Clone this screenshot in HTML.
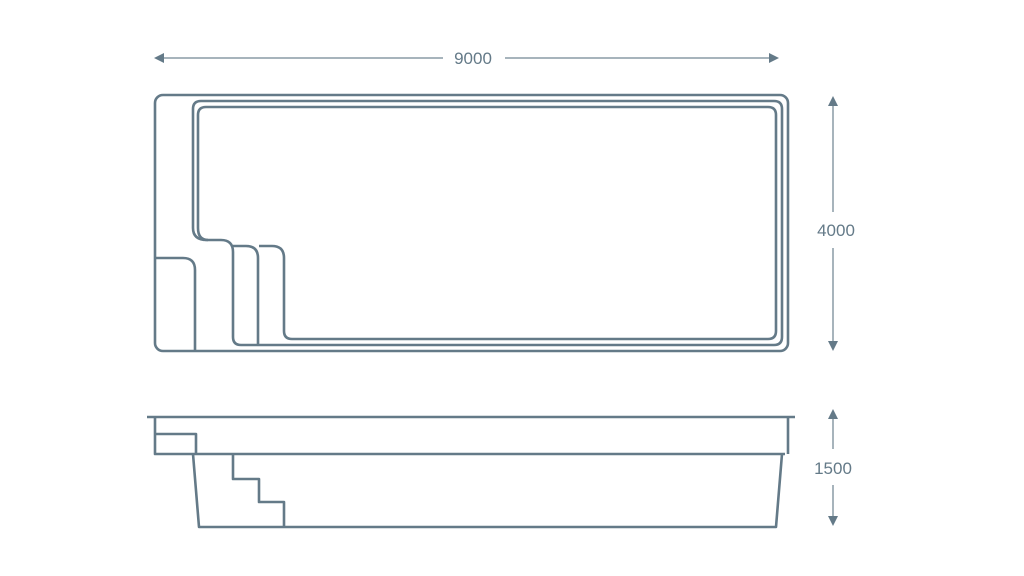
<!DOCTYPE html>
<html><head><style>
body{margin:0;background:#fff;width:1024px;height:576px;overflow:hidden}
svg{display:block}
text{font-family:"Liberation Sans",sans-serif;font-size:17px;fill:#647a88}
</style></head><body>
<svg width="1024" height="576" viewBox="0 0 1024 576">
<g fill="none" stroke="#647a88" stroke-width="2.6" stroke-linejoin="round">
<rect x="155" y="95" width="633" height="256" rx="8"/>
<path d="M155,258 H183 Q195,258 195,270 V351"/>
<path d="M193,228 V109 Q193,101 201,101 H774 Q782,101 782,109 V337 Q782,345 774,345 H241 Q233,345 233,337 V252 Q233,240 221,240 H207 Q193,240 193,228"/>
<path d="M198,228 V115 Q198,107 206,107 H768 Q776,107 776,115 V331 Q776,339 768,339 H292 Q284,339 284,331 V258 Q284,246 272,246 H259"/>
<path d="M198,228 Q198,240 208,240"/>
<path d="M233,246 H246 Q258,246 258,258 V345"/>
<path d="M147,417 H795"/>
<path d="M155,417 V454 H785"/>
<path d="M155,434 H196 V454"/>
<path d="M788,417 V454"/>
<path d="M193,454 L199,527 H776 L782,454"/>
<path d="M233,454 V479 H259 V502 H284 V527"/>
</g>
<g stroke="#8a9ba6" stroke-width="1.5" fill="none">
<path d="M160,58 H443 M505,58 H773"/>
<path d="M833,102 V212 M833,248 V345"/>
<path d="M833,415 V449 M833,485 V520"/>
</g>
<g fill="#647a88">
<path d="M154,58 L164,53 L164,63Z"/>
<path d="M779,58 L769,53 L769,63Z"/>
<path d="M833,96 L828,106 L838,106Z"/>
<path d="M833,351 L828,341 L838,341Z"/>
<path d="M833,409 L828,419 L838,419Z"/>
<path d="M833,526 L828,516 L838,516Z"/>
</g>
<text x="473" y="64" text-anchor="middle">9000</text>
<text x="836" y="236" text-anchor="middle">4000</text>
<text x="833" y="474" text-anchor="middle">1500</text>
</svg>
</body></html>
